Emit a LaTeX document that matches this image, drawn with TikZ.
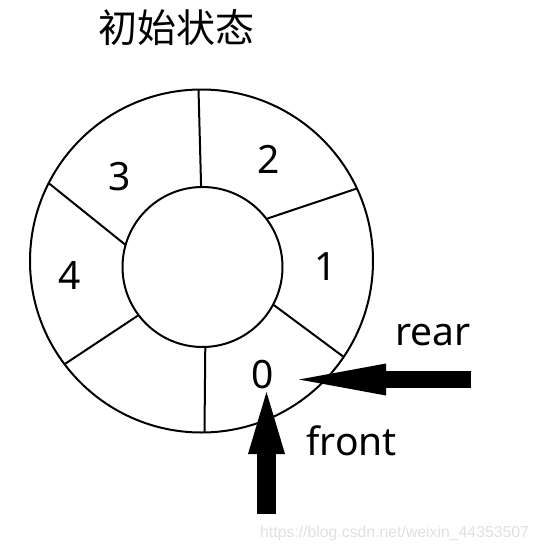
\documentclass[tikz,border=0pt]{standalone}
\usepackage{fontspec}
\setmainfont{Noto Sans}
\newfontfamily\cjk{Noto Sans CJK SC}
\newfontfamily\wmfont{Liberation Sans}
\usetikzlibrary{arrows.meta}
\begin{document}
\begin{tikzpicture}[x=1pt,y=-1pt,
  ring/.style={circle,draw,line width=2pt,outer sep=0pt,inner sep=0pt},
  divider/.style={line width=2pt},
  lab/.style={font=\fontsize{39}{39}\selectfont,anchor=base,inner sep=0pt},
  rearptr/.style={line width=17pt,-{Triangle[length=87pt,width=32pt,line width=0pt]}},
  frontptr/.style={line width=19pt,-{Triangle[length=62pt,width=37pt,line width=0pt]}}
]
\useasboundingbox (0,0) rectangle (540,551);
% title
\node[lab,font=\cjk\fontsize{39}{39}\selectfont] (title) at (176,42) {初始状态};
% rings
\node[ring,minimum size=343pt] (outer) at (201.5,261) {};
\node[ring,minimum size=160pt] (inner) at (202.5,267) {};
% dividers
\draw[divider] (outer.91.8) -- (inner.91.8);
\draw[divider] (outer.25.4) -- (inner.37.8);
\draw[divider] (outer.-34.2) -- (inner.-28);
\draw[divider] (outer.-89.8) -- (inner.-88.9);
\draw[divider] (outer.217.4) -- (inner.217.7);
\draw[divider] (outer.153.5) -- (inner.164.8);
% slot numbers
\node[lab] (n0) at (263,388) {0};
\node[lab] (n1) at (326,280) {1};
\node[lab] (n2) at (269,173) {2};
\node[lab] (n3) at (120,190) {3};
\node[lab] (n4) at (70,289) {4};
% pointer labels
\node[lab] (rear) at (433,345) {rear};
\node[lab] (front) at (351.5,455) {front};
% pointers
\coordinate (rearstart) at (471,379.5);
\coordinate (reartip) at (299,379.5);
\coordinate (frontstart) at (266.5,514);
\coordinate (fronttip) at (266.5,392);
\draw[rearptr] (rearstart) -- (reartip);
\draw[frontptr] (frontstart) -- (fronttip);
% watermark
\node[anchor=base west,inner sep=0pt,text=black!12,font=\wmfont\fontsize{15.8}{16}\selectfont] (wm) at (260,537) {https://blog.csdn.net/weixin\_44353507};
\end{tikzpicture}
\end{document}
